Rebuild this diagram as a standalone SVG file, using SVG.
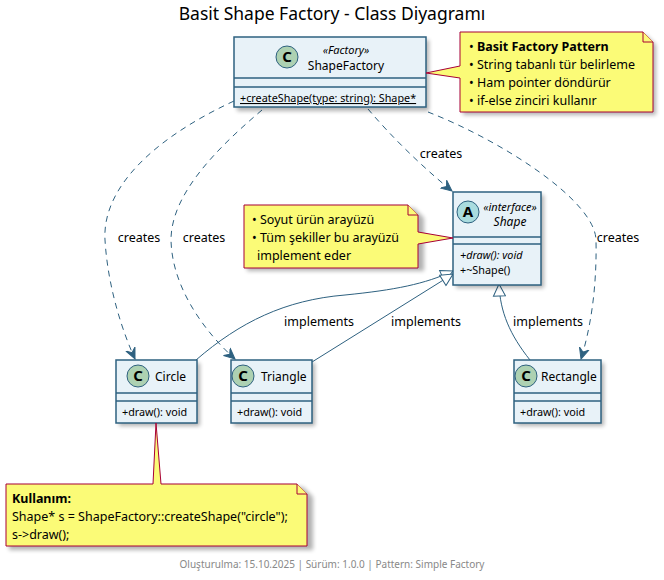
<svg xmlns="http://www.w3.org/2000/svg" width="664" height="580" viewBox="0 0 664 580">
<defs>
<filter id="sh" x="-10%" y="-10%" width="130%" height="130%"><feGaussianBlur stdDeviation="2"/></filter>
<marker id="arr" viewBox="0 0 12 12" refX="11" refY="6" markerWidth="12" markerHeight="12" markerUnits="userSpaceOnUse" orient="auto"><path d="M0,1 L11,6 L0,11 L4,6 Z" fill="#2E6180" stroke="#2E6180" stroke-width="1"/></marker>
<marker id="tri" viewBox="0 0 14 14" refX="13" refY="7" markerWidth="14" markerHeight="14" markerUnits="userSpaceOnUse" orient="auto"><path d="M1,1 L13,7 L1,13 Z" fill="#FFFFFF" stroke="#2E6180" stroke-width="1"/></marker>
</defs>
<style>
text{font-family:"Noto Sans","DejaVu Sans",sans-serif;fill:#000}
.box{fill:#E8F2F8;stroke:#2E6180;stroke-width:1.5}
.sep{stroke:#2E6180;stroke-width:1.5}
.shd{fill:#000;opacity:0.3;filter:url(#sh)}
.note{fill:#FBFB77;stroke:#A80036;stroke-width:1}
.nm{font-size:12px}
.mb{font-size:10.8px}
.nt{font-size:12.5px}
.lbl{font-size:12.5px}
.dash{fill:none;stroke:#2E6180;stroke-width:1;stroke-dasharray:6,5}
.ln{fill:none;stroke:#2E6180;stroke-width:1}
.ic{fill:#ADD1B2;stroke:#2E6180;stroke-width:1}
.icA{fill:#A9DCDF;stroke:#2E6180;stroke-width:1}
.ict{font-size:15px;font-weight:bold;text-anchor:middle}
</style>
<rect width="664" height="580" fill="#FFFFFF"/>
<text x="332" y="20" font-size="17.5" text-anchor="middle">Basit Shape Factory - Class Diyagramı</text>

<g id="connectors">
<path class="dash" d="M234,101 C150,140 102,190 105,240 C108,290 124,335 135,359" marker-end="url(#arr)"/>
<path class="dash" d="M262,110 C215,150 171,195 171,240 C172,290 208,335 235,359" marker-end="url(#arr)"/>
<path class="dash" d="M368,109 C390,135 420,165 452,191" marker-end="url(#arr)"/>
<path class="dash" d="M428,112 C500,140 595,200 596,240 C597,290 590,330 581,359" marker-end="url(#arr)"/>
<path class="ln" d="M196,360 C240,322 285,300 345,295 C395,290 425,284 453,271" marker-end="url(#tri)"/>
<path class="ln" d="M312,362 L453,274" marker-end="url(#tri)"/>
<path class="ln" d="M530,360 C510,335 500,312 499,284" marker-end="url(#tri)"/>
<text class="lbl" x="139" y="242" text-anchor="middle">creates</text>
<text class="lbl" x="204" y="242" text-anchor="middle">creates</text>
<text class="lbl" x="441" y="158" text-anchor="middle">creates</text>
<text class="lbl" x="618" y="242" text-anchor="middle">creates</text>
<text class="lbl" x="319" y="326" text-anchor="middle">implements</text>
<text class="lbl" x="426" y="326" text-anchor="middle">implements</text>
<text class="lbl" x="548" y="326" text-anchor="middle">implements</text>
</g>

<g id="ShapeFactory">
<rect class="shd" x="237" y="40" width="192" height="71"/>
<rect class="box" x="234" y="37" width="192" height="70"/>
<line class="sep" x1="234" y1="78" x2="426" y2="78"/>
<line class="sep" x1="234" y1="87" x2="426" y2="87"/>
<circle class="ic" cx="287" cy="57" r="11"/>
<text class="ict" x="287" y="62">C</text>
<text x="346" y="54" font-size="11" font-style="italic" text-anchor="middle">«Factory»</text>
<text class="nm" x="346" y="70" text-anchor="middle">ShapeFactory</text>
<text class="mb" x="240" y="102" text-decoration="underline">+createShape(type: string): Shape*</text>
</g>

<g id="note-factory">
<path class="shd" d="M463,35 H646 L656,45 V115 H463 Z"/>
<path class="note" d="M460,32 H643 L653,42 V112 H460 V78 L426,73 L460,66 Z"/>
<path class="note" d="M643,32 V42 H653"/>
<text class="nt" x="469" y="51">• <tspan font-weight="bold">Basit Factory Pattern</tspan></text>
<text class="nt" x="469" y="69">• String tabanlı tür belirleme</text>
<text class="nt" x="469" y="87">• Ham pointer döndürür</text>
<text class="nt" x="469" y="105">• if-else zinciri kullanır</text>
</g>

<g id="Shape">
<rect class="shd" x="456" y="195" width="88" height="93"/>
<rect class="box" x="453" y="192" width="88" height="93"/>
<line class="sep" x1="453" y1="237" x2="541" y2="237"/>
<line class="sep" x1="453" y1="244" x2="541" y2="244"/>
<circle class="icA" cx="468" cy="212" r="11"/>
<text class="ict" x="468" y="217">A</text>
<text x="510" y="211" font-size="11" font-style="italic" text-anchor="middle">«interface»</text>
<text class="nm" x="510" y="226" font-style="italic" text-anchor="middle">Shape</text>
<text class="mb" x="460" y="259" font-style="italic">+draw(): void</text>
<text class="mb" x="460" y="274">+~Shape()</text>
</g>

<g id="note-shape">
<path class="shd" d="M247,208 H414 L424,218 V271 H247 Z"/>
<path class="note" d="M244,205 H408 L418,215 V232 L453,238 L418,244 V268 H244 Z"/>
<path class="note" d="M408,205 V215 H418"/>
<text class="nt" x="252" y="224">• Soyut ürün arayüzü</text>
<text class="nt" x="252" y="242">• Tüm şekiller bu arayüzü</text>
<text class="nt" x="257" y="260">implement eder</text>
</g>

<g id="Circle">
<rect class="shd" x="119" y="363" width="81" height="63"/>
<rect class="box" x="116" y="360" width="81" height="63"/>
<line class="sep" x1="116" y1="393" x2="197" y2="393"/>
<line class="sep" x1="116" y1="401" x2="197" y2="401"/>
<circle class="ic" cx="138" cy="376" r="11"/>
<text class="ict" x="138" y="381">C</text>
<text class="nm" x="155" y="381">Circle</text>
<text class="mb" x="122" y="416">+draw(): void</text>
</g>

<g id="Triangle">
<rect class="shd" x="234" y="363" width="81" height="63"/>
<rect class="box" x="231" y="360" width="81" height="63"/>
<line class="sep" x1="231" y1="393" x2="312" y2="393"/>
<line class="sep" x1="231" y1="401" x2="312" y2="401"/>
<circle class="ic" cx="243" cy="376" r="11"/>
<text class="ict" x="243" y="381">C</text>
<text class="nm" x="261" y="381">Triangle</text>
<text class="mb" x="237" y="416">+draw(): void</text>
</g>

<g id="Rectangle">
<rect class="shd" x="517" y="363" width="87" height="63"/>
<rect class="box" x="514" y="360" width="87" height="63"/>
<line class="sep" x1="514" y1="393" x2="601" y2="393"/>
<line class="sep" x1="514" y1="401" x2="601" y2="401"/>
<circle class="ic" cx="526" cy="376" r="11"/>
<text class="ict" x="526" y="381">C</text>
<text class="nm" x="541" y="381">Rectangle</text>
<text class="mb" x="520" y="416">+draw(): void</text>
</g>

<g id="note-usage">
<path class="shd" d="M9,487 H303 L313,497 V550 H9 Z"/>
<path class="note" d="M6,484 H153 L156,423 L161,484 H297 L307,494 V546 H6 Z"/>
<path class="note" d="M297,484 V494 H307"/>
<text class="nt" x="12" y="503" font-weight="bold">Kullanım:</text>
<text class="nt" x="12" y="521">Shape* s = ShapeFactory::createShape("circle");</text>
<text class="nt" x="12" y="539">s-&gt;draw();</text>
</g>

<text x="332" y="568" font-size="10" fill="#888888" style="fill:#888888" text-anchor="middle">Oluşturulma: 15.10.2025 | Sürüm: 1.0.0 | Pattern: Simple Factory</text>
</svg>
